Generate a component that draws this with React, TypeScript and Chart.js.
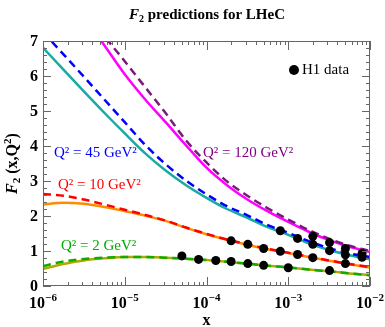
import React, { useEffect, useRef } from "react";
import { Chart, registerables } from "chart.js";
Chart.register(...registerables);

// quarter-decade grid in x
const xGrid = [1e-6, 1.78e-6, 3.16e-6, 5.62e-6, 1e-5, 1.78e-5, 3.16e-5, 5.62e-5, 1e-4, 1.78e-4, 3.16e-4, 5.62e-4, 1e-3, 1.78e-3, 3.16e-3, 5.62e-3, 1e-2];

const q45Solid = [6.81, 6.18, 5.56, 4.95, 4.36, 3.79, 3.3, 2.88, 2.52, 2.2, 1.95, 1.68, 1.46, 1.22, 1.03, 0.88, 0.76];
const q45Dashed = [7.25, 6.62, 5.98, 5.33, 4.68, 4.03, 3.48, 3.01, 2.62, 2.28, 2.02, 1.74, 1.52, 1.28, 1.08, 0.93, 0.83];
const q120Solid = [null, null, 7.7, 6.88, 6.05, 5.33, 4.68, 4.02, 3.38, 2.88, 2.47, 2.13, 1.83, 1.55, 1.31, 1.12, 0.97];
const q120Dashed = [null, null, 8.0, 7.15, 6.42, 5.68, 4.94, 4.16, 3.53, 2.99, 2.58, 2.22, 1.9, 1.6, 1.35, 1.15, 1.0];
const q10Solid = [2.33, 2.38, 2.35, 2.26, 2.14, 2.01, 1.86, 1.66, 1.48, 1.32, 1.18, 1.05, 0.94, 0.83, 0.72, 0.62, 0.53];
const q10Dashed = [2.63, 2.58, 2.47, 2.33, 2.18, 2.03, 1.87, 1.67, 1.49, 1.33, 1.19, 1.06, 0.95, 0.84, 0.73, 0.63, 0.54];
const q2Solid = [0.49, 0.63, 0.73, 0.79, 0.83, 0.83, 0.81, 0.78, 0.74, 0.69, 0.64, 0.58, 0.53, 0.47, 0.42, 0.36, 0.31];
const q2Dashed = [0.57, 0.7, 0.77, 0.81, 0.83, 0.83, 0.81, 0.78, 0.74, 0.69, 0.64, 0.58, 0.53, 0.47, 0.42, 0.36, 0.31];

// H1 data
const h1q2X = [5e-5, 8e-5, 1.3e-4, 2e-4, 3.2e-4, 5e-4, 1e-3, 3.2e-3];
const h1q2Y = [0.86, 0.76, 0.73, 0.7, 0.64, 0.59, 0.52, 0.44];
const h1q10X = [2e-4, 3.2e-4, 5e-4, 8e-4, 1.3e-3, 2e-3, 5e-3];
const h1q10Y = [1.29, 1.19, 1.07, 0.99, 0.9, 0.81, 0.64];
const h1q45X = [8e-4, 1.3e-3, 2e-3, 3.2e-3, 5e-3, 8e-3];
const h1q45Y = [1.58, 1.36, 1.19, 1.01, 0.89, 0.82];
const h1q120X = [2e-3, 3.2e-3, 5e-3, 8e-3];
const h1q120Y = [1.42, 1.24, 1.07, 0.93];

const xDecades = [-6, -5, -4, -3, -2];
const yTicks = [0, 1, 2, 3, 4, 5, 6, 7];

const SERIF = '"Liberation Serif", "DejaVu Serif", serif';

const toPts = (xs: number[], ys: (number | null)[]) =>
  xs.map((x, i) => ({ x, y: ys[i] }));

type Run = { t: string; font: string; dy?: number };
function drawRuns(ctx: CanvasRenderingContext2D, runs: Run[], cx: number, cy: number, color: string) {
  let total = 0;
  for (const r of runs) {
    ctx.font = r.font;
    total += ctx.measureText(r.t).width;
  }
  let x = cx - total / 2;
  ctx.fillStyle = color;
  ctx.textAlign = "left";
  ctx.textBaseline = "alphabetic";
  for (const r of runs) {
    ctx.font = r.font;
    ctx.fillText(r.t, x, cy + (r.dy || 0));
    x += ctx.measureText(r.t).width;
  }
}

const decor = {
  id: "decor",
  beforeDraw(chart: any) {
    const ctx = chart.ctx;
    ctx.save();
    ctx.fillStyle = "#ffffff";
    ctx.fillRect(0, 0, chart.width, chart.height);
    ctx.restore();
  },
  afterDraw(chart: any) {
    const ctx: CanvasRenderingContext2D = chart.ctx;
    const { left, right, top, bottom } = chart.chartArea;
    const xs = chart.scales.x;
    const ys = chart.scales.y;
    ctx.save();
    // frame
    ctx.strokeStyle = "#666";
    ctx.lineWidth = 1;
    ctx.strokeRect(left + 0.5, top + 0.5, right - left - 1, bottom - top - 1);
    // x ticks
    ctx.beginPath();
    for (let d = -6; d <= -2; d++) {
      for (let m = 1; m <= 9; m++) {
        if (d === -2 && m > 1) break;
        const v = m * Math.pow(10, d);
        const px = Math.round(xs.getPixelForValue(v)) + 0.5;
        const len = m === 1 ? 9 : 4;
        ctx.moveTo(px, bottom);
        ctx.lineTo(px, bottom - len);
        ctx.moveTo(px, top);
        ctx.lineTo(px, top + len);
      }
    }
    // y ticks
    for (let i = 0; i <= 35; i++) {
      const v = i * 0.2;
      const py = Math.round(ys.getPixelForValue(v)) + 0.5;
      const len = i % 5 === 0 ? 8 : 4;
      ctx.moveTo(left, py);
      ctx.lineTo(left + len, py);
      ctx.moveTo(right, py);
      ctx.lineTo(right - len, py);
    }
    ctx.stroke();

    // y tick labels
    ctx.fillStyle = "#000";
    ctx.font = `bold 16px ${SERIF}`;
    ctx.textAlign = "right";
    ctx.textBaseline = "middle";
    for (const t of yTicks) {
      ctx.fillText(String(t), left - 5, ys.getPixelForValue(t) + 1);
    }
    // x tick labels
    for (const d of xDecades) {
      const px = xs.getPixelForValue(Math.pow(10, d));
      drawRuns(ctx, [
        { t: "10", font: `bold 16px ${SERIF}` },
        { t: "\u2212" + String(-d), font: `bold 11px ${SERIF}`, dy: -7 },
      ], px, 308, "#000");
    }
    // axis titles
    drawRuns(ctx, [{ t: "x", font: `bold 16px ${SERIF}` }], (left + right) / 2, 325, "#000");
    ctx.save();
    ctx.translate(17, (top + bottom) / 2);
    ctx.rotate(-Math.PI / 2);
    drawRuns(ctx, [
      { t: "F", font: `italic bold 16px ${SERIF}` },
      { t: "2", font: `bold 11px ${SERIF}`, dy: 3 },
      { t: " (x,Q", font: `bold 16px ${SERIF}` },
      { t: "2", font: `bold 11px ${SERIF}`, dy: -6 },
      { t: ")", font: `bold 16px ${SERIF}` },
    ], 0, 0, "#000");
    ctx.restore();
    // title
    drawRuns(ctx, [
      { t: "F", font: `italic bold 15px ${SERIF}` },
      { t: "2", font: `bold 10px ${SERIF}`, dy: 3 },
      { t: " predictions for LHeC", font: `bold 15px ${SERIF}` },
    ], 207, 19, "#000");

    // annotations
    ctx.font = `15px ${SERIF}`;
    ctx.textAlign = "left";
    ctx.textBaseline = "middle";
    ctx.fillStyle = "#0000ff";
    ctx.fillText("Q\u00b2 = 45 GeV\u00b2", 54, 153);
    ctx.fillStyle = "#800080";
    ctx.fillText("Q\u00b2 = 120 GeV\u00b2", 203, 153);
    ctx.fillStyle = "#ff0000";
    ctx.fillText("Q\u00b2 = 10 GeV\u00b2", 58, 185);
    ctx.fillStyle = "#00aa00";
    ctx.fillText("Q\u00b2 = 2 GeV\u00b2", 61, 246);
    // H1 legend
    ctx.fillStyle = "#000";
    ctx.beginPath();
    ctx.arc(294, 70, 5, 0, Math.PI * 2);
    ctx.fill();
    ctx.fillText("H1 data", 302, 70);
    ctx.restore();
  },
};

function line(data: (number | null)[], color: string, dashed: boolean, order: number) {
  return {
    type: "line" as const,
    data: toPts(xGrid, data),
    borderColor: color,
    borderWidth: 2.5,
    borderDash: dashed ? [8, 5] : [],
    pointRadius: 0,
    cubicInterpolationMode: "monotone" as const,
    fill: false,
    order,
  };
}

function dots(xs: number[], ys: number[]) {
  return {
    type: "scatter" as const,
    data: toPts(xs, ys),
    pointRadius: 4.5,
    pointBackgroundColor: "#000",
    pointBorderColor: "#000",
    pointBorderWidth: 0,
    showLine: false,
    order: 0,
  };
}

export default function App() {
  const ref = useRef<HTMLCanvasElement | null>(null);
  useEffect(() => {
    document.body.style.margin = "0";
    const canvas = ref.current!;
    const chart = new Chart(canvas, {
      type: "line",
      data: {
        datasets: [
          dots(h1q2X, h1q2Y),
          dots(h1q10X, h1q10Y),
          dots(h1q45X, h1q45Y),
          dots(h1q120X, h1q120Y),
          line(q45Dashed, "#0000ff", true, 1),
          line(q120Dashed, "#7a1a7a", true, 1),
          line(q10Dashed, "#ff0000", true, 1),
          line(q2Dashed, "#11aa00", true, 1),
          line(q45Solid, "#19aaa6", false, 2),
          line(q120Solid, "#ff00ff", false, 2),
          line(q10Solid, "#ff8c00", false, 2),
          line(q2Solid, "#b0aa00", false, 2),
        ] as any,
      },
      options: {
        responsive: false,
        animation: false,
        devicePixelRatio: 1,
        layout: { padding: { top: 41, right: 15, left: 0, bottom: 0 } },
        plugins: { legend: { display: false }, tooltip: { enabled: false }, title: { display: false } },
        scales: {
          x: {
            type: "logarithmic",
            min: 1e-6,
            max: 1e-2,
            grid: { display: false },
            border: { display: false },
            ticks: { display: false },
            afterFit: (s: any) => { s.height = 41; },
          },
          y: {
            type: "linear",
            min: 0,
            max: 7,
            grid: { display: false },
            border: { display: false },
            ticks: { display: false },
            afterFit: (s: any) => { s.width = 43; },
          },
        },
      } as any,
      plugins: [decor],
    });
    return () => chart.destroy();
  }, []);
  return <canvas ref={ref} width={385} height={327} style={{ display: "block", width: 385, height: 327 }} />;
}
